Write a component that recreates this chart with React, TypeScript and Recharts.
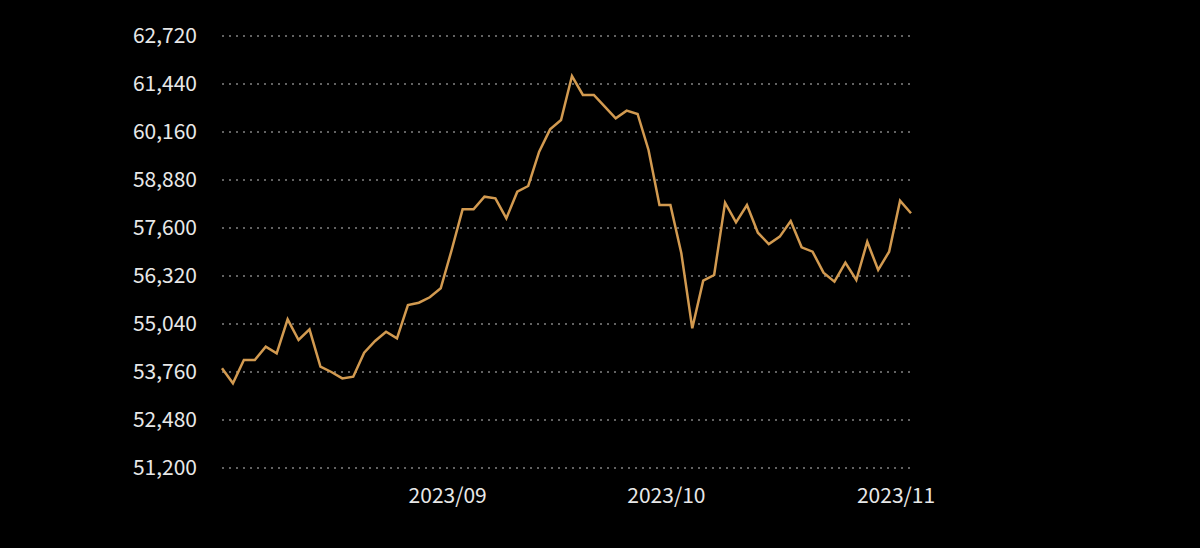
import React from "react";
import { LineChart, Line, XAxis, YAxis, CartesianGrid } from "recharts";

const dates: string[] = [
  "2023/08/02", "2023/08/03", "2023/08/04", "2023/08/07", "2023/08/08", "2023/08/09", "2023/08/10",
  "2023/08/14", "2023/08/15", "2023/08/16", "2023/08/17", "2023/08/18", "2023/08/21", "2023/08/22",
  "2023/08/23", "2023/08/24", "2023/08/25", "2023/08/28", "2023/08/29", "2023/08/30", "2023/08/31",
  "2023/09/01", "2023/09/04", "2023/09/05", "2023/09/06", "2023/09/07", "2023/09/08", "2023/09/11",
  "2023/09/12", "2023/09/13", "2023/09/14", "2023/09/15", "2023/09/19", "2023/09/20", "2023/09/21",
  "2023/09/22", "2023/09/25", "2023/09/26", "2023/09/27", "2023/09/28", "2023/09/29",
  "2023/10/02", "2023/10/03", "2023/10/04", "2023/10/05", "2023/10/06", "2023/10/10", "2023/10/11",
  "2023/10/12", "2023/10/13", "2023/10/16", "2023/10/17", "2023/10/18", "2023/10/19", "2023/10/20",
  "2023/10/23", "2023/10/24", "2023/10/25", "2023/10/26", "2023/10/27", "2023/10/30", "2023/10/31",
  "2023/11/01", "2023/11/02",
];

const prices: number[] = [
  53858, 53458, 54080, 54080, 54435, 54258, 55165,
  54613, 54898, 53902, 53760, 53590, 53635, 54275,
  54587, 54835, 54658, 55547, 55608, 55752, 55991,
  57013, 58098, 58098, 58435, 58391, 57858, 58569,
  58720, 59635, 60231, 60480, 61653, 61147, 61147,
  60835, 60525, 60729, 60640, 59680, 58213,
  58213, 56925, 54925, 56195, 56347, 58275, 57751,
  58213, 57475, 57173, 57369, 57787, 57085, 56969,
  56409, 56169, 56675, 56213, 57235, 56480, 56969,
  58328, 57992,
];

const yTicks: number[] = [51200, 52480, 53760, 55040, 56320, 57600, 58880, 60160, 61440, 62720];
const xTicks: string[] = ["2023/09/01", "2023/10/02", "2023/11/01"];

const data = dates.map((d, i) => ({ date: d, price: prices[i] }));

const FONT = "'Noto Sans CJK JP', 'Noto Sans', sans-serif";

export default function App() {
  return (
    <div
      style={{
        position: "fixed",
        left: 0,
        top: 0,
        width: 1200,
        height: 548,
        background: "#000",
        overflow: "hidden",
      }}
    >
      <LineChart
        width={1200}
        height={548}
        data={data}
        margin={{ top: 36, right: 289, bottom: 40, left: 122 }}
      >
        <CartesianGrid
          vertical={false}
          stroke="#c4c4c4"
          strokeDasharray="2 5"
          strokeWidth={1.2}
        />
        <XAxis
          dataKey="date"
          ticks={xTicks}
          interval={0}
          height={40}
          axisLine={false}
          tickLine={false}
          tickSize={0}
          tickMargin={20}
          padding={{ left: 0, right: 0 }}
          tickFormatter={(v: string) => v.slice(0, 7)}
          tick={{ fill: "#e8e8e8", fontSize: 21, fontFamily: FONT, dx: -4 }}
        />
        <YAxis
          domain={[51200, 62720]}
          ticks={yTicks}
          width={100}
          axisLine={false}
          tickLine={false}
          tickSize={0}
          tickMargin={25}
          interval={0}
          tickFormatter={(v: number) => v.toLocaleString("en-US")}
          tick={{ fill: "#e8e8e8", fontSize: 21, fontFamily: FONT }}
        />
        <Line
          type="linear"
          dataKey="price"
          stroke="#d29a50"
          strokeWidth={2.5}
          dot={false}
          activeDot={false}
          isAnimationActive={false}
        />
      </LineChart>
    </div>
  );
}
